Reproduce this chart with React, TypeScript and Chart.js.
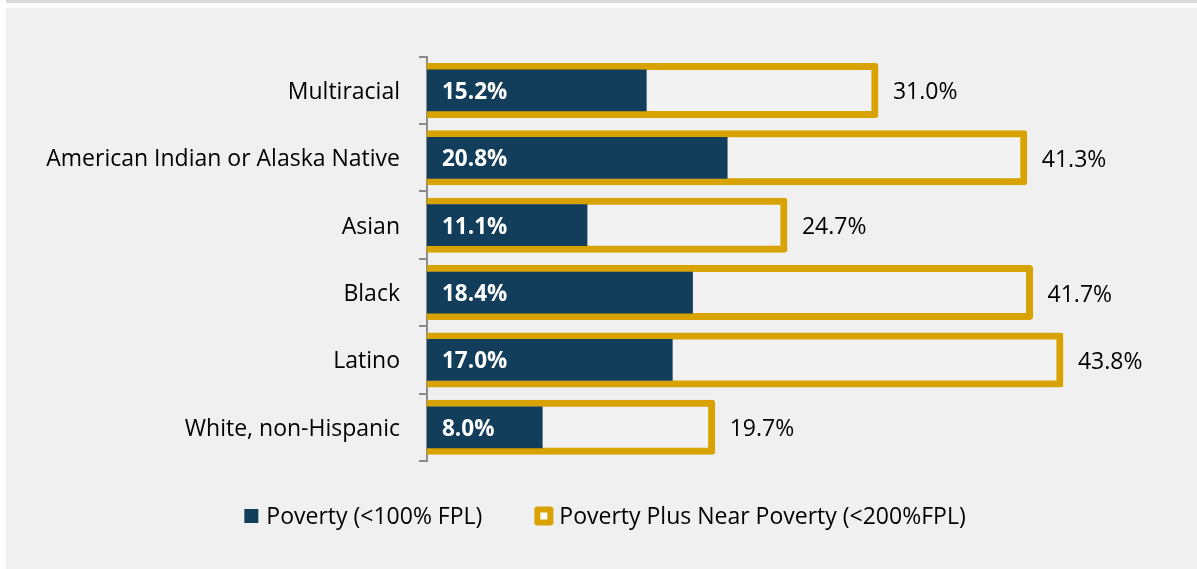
import React, { useEffect, useRef } from "react";
import { Chart, registerables } from "chart.js";

Chart.register(...registerables);

const categories = [
  "Multiracial",
  "American Indian or Alaska Native",
  "Asian",
  "Black",
  "Latino",
  "White, non-Hispanic",
];
const povertyValues = [15.2, 20.8, 11.1, 18.4, 17.0, 8.0];
const nearPovertyValues = [31.0, 41.3, 24.7, 41.7, 43.8, 19.7];
const seriesNames = ["Poverty (<100% FPL)", "Poverty Plus Near Poverty (<200%FPL)"];
const axisMax = 50;

const NAVY = "#123d5b";
const GOLD = "#d8a200";
const FONT = "'Open Sans', sans-serif";

const labelPlugin = {
  id: "valueLabels",
  afterDatasetsDraw(chart: any) {
    const ctx = chart.ctx;
    ctx.save();
    ctx.textBaseline = "middle";
    ctx.textAlign = "left";
    const goldMeta = chart.getDatasetMeta(1);
    goldMeta.data.forEach((el: any, i: number) => {
      ctx.font = `23px ${FONT}`;
      ctx.fillStyle = "#000";
      ctx.fillText(nearPovertyValues[i].toFixed(1) + "%", el.x + 18, el.y + 2.5);
    });
    const navyMeta = chart.getDatasetMeta(0);
    navyMeta.data.forEach((el: any, i: number) => {
      ctx.font = `bold 22.5px ${FONT}`;
      ctx.fillStyle = "#ffffff";
      ctx.fillText(povertyValues[i].toFixed(1) + "%", el.base + 15, el.y + 2);
    });
    ctx.restore();
  },
};

const legendPlugin = {
  id: "customLegend",
  afterDraw(chart: any) {
    const ctx = chart.ctx;
    ctx.save();
    ctx.font = `23px ${FONT}`;
    ctx.textBaseline = "middle";
    ctx.textAlign = "left";
    const w0 = ctx.measureText(seriesNames[0]).width;
    const w1 = ctx.measureText(seriesNames[1]).width;
    const box0 = 14;
    const box1 = 19;
    const gapText0 = 8;
    const gapText1 = 6;
    const itemGap = 52;
    const total = box0 + gapText0 + w0 + itemGap + box1 + gapText1 + w1;
    const cx = 599;
    const cy = 508;
    let x = cx - total / 2;
    ctx.fillStyle = NAVY;
    ctx.fillRect(x, cy - box0 / 2, box0, box0);
    x += box0 + gapText0;
    ctx.fillStyle = "#000";
    ctx.fillText(seriesNames[0], x, cy + 1);
    x += w0 + itemGap;
    ctx.fillStyle = GOLD;
    ctx.beginPath();
    (ctx as any).roundRect(x, cy - box1 / 2, box1, box1, 3);
    ctx.fill();
    ctx.fillStyle = "#ffffff";
    ctx.fillRect(x + 6, cy - 3.5, 7, 7);
    x += box1 + gapText1;
    ctx.fillStyle = "#000";
    ctx.fillText(seriesNames[1], x, cy + 1);
    ctx.restore();
  },
};

export default function App() {
  const ref = useRef<HTMLCanvasElement>(null);
  useEffect(() => {
    if (!ref.current) return;
    const chart = new Chart(ref.current, {
      type: "bar",
      data: {
        labels: categories,
        datasets: [
          {
            label: seriesNames[0],
            data: povertyValues,
            backgroundColor: NAVY,
            borderWidth: 0,
            grouped: false,
            categoryPercentage: 1,
            barPercentage: 0.62,
          } as any,
          {
            label: seriesNames[1],
            data: nearPovertyValues,
            backgroundColor: "#f2f2f2",
            borderColor: GOLD,
            borderWidth: 7,
            borderRadius: 3,
            borderSkipped: false,
            inflateAmount: 3.5,
            grouped: false,
            categoryPercentage: 1,
            barPercentage: 0.712,
          } as any,
        ],
      },
      options: {
        indexAxis: "y",
        animation: false,
        responsive: false,
        maintainAspectRatio: false,
        layout: { padding: { top: 48.7, right: 47.5, bottom: 108, left: 0 } },
        plugins: {
          legend: { display: false },
          tooltip: { enabled: false },
          title: { display: false },
        },
        scales: {
          x: {
            display: false,
            min: 0,
            max: axisMax,
          },
          y: {
            afterFit(scale: any) {
              scale.width = 421;
            },
            grid: {
              drawOnChartArea: false,
              drawTicks: true,
              tickLength: 8,
              color: "#8c8c8c",
              lineWidth: 2,
              offset: true,
            },
            border: { display: true, color: "#8c8c8c", width: 2 },
            ticks: {
              padding: 19,
              labelOffset: 2,
              color: "#000",
              font: { family: FONT, size: 23 },
            },
          },
        },
      },
      plugins: [labelPlugin, legendPlugin],
    });
    return () => chart.destroy();
  }, []);

  return (
    <div style={{ position: "fixed", left: 0, top: 0, width: 1197, height: 569, background: "#fff", overflow: "hidden" }}>
      <div style={{ position: "absolute", left: 6, top: 0, width: 1191, height: 3, background: "#d9d9d9" }} />
      <div style={{ position: "absolute", left: 6, top: 8, width: 1191, height: 561, background: "#f0f0f0" }}>
        <canvas ref={ref} width={1191} height={561} style={{ display: "block", width: 1191, height: 561 }} />
      </div>
    </div>
  );
}
